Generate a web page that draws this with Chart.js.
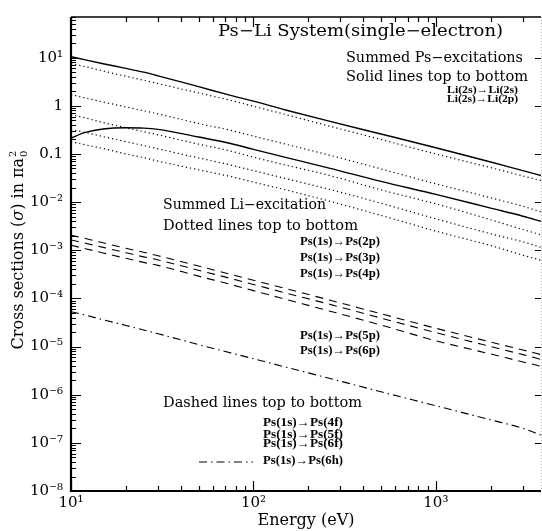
<!DOCTYPE html>
<html>
<head>
<meta charset="utf-8">
<script src="https://cdn.jsdelivr.net/npm/chart.js@4.4.1/dist/chart.umd.min.js"></script>
<style>
  html, body { margin: 0; padding: 0; background: #fff; overflow: hidden; }
  canvas { display: block; }
</style>
</head>
<body>
<canvas id="psLiChart" width="542" height="531"></canvas>
<script>
// energy grid (eV)
const energy = [10, 12, 15, 20, 25, 30, 50, 75, 100, 150, 260, 500, 1000, 2000, 3000, 3770];

// summed Ps-excitations, solid lines
const li2sTo2s = [10.5, 9.0, 7.5, 6.0, 5.0, 4.2, 2.5, 1.65, 1.25, 0.82, 0.48, 0.26, 0.135, 0.068, 0.045, 0.0357];
const li2sTo2p = [0.215, 0.28, 0.33, 0.35, 0.345, 0.325, 0.225, 0.165, 0.125, 0.085, 0.051, 0.027, 0.0145, 0.0075, 0.0051, 0.004];

// summed Li-excitation, dotted lines
const ps2p = [7.5, 6.5, 5.3, 4.1, 3.4, 2.9, 1.85, 1.3, 0.98, 0.66, 0.38, 0.2, 0.1, 0.052, 0.035, 0.028];
const ps3p = [1.72, 1.45, 1.2, 0.95, 0.79, 0.68, 0.43, 0.31, 0.235, 0.16, 0.095, 0.049, 0.024, 0.0123, 0.0082, 0.0063];
const ps4p = [0.66, 0.56, 0.45, 0.35, 0.29, 0.25, 0.16, 0.115, 0.086, 0.059, 0.036, 0.018, 0.0092, 0.0043, 0.0027, 0.0021];
const ps5p = [0.32, 0.28, 0.23, 0.18, 0.15, 0.128, 0.083, 0.059, 0.045, 0.031, 0.0185, 0.0095, 0.0045, 0.0022, 0.0015, 0.00115];
const ps6p = [0.18, 0.155, 0.13, 0.1, 0.084, 0.071, 0.047, 0.034, 0.026, 0.018, 0.0105, 0.0053, 0.0025, 0.00125, 0.00079, 0.00062];

// dashed lines
const ps4f = [2.05e-3, 1.75e-3, 1.43e-3, 1.1e-3, 9.1e-4, 7.7e-4, 4.7e-4, 3.15e-4, 2.38e-4, 1.6e-4, 9.3e-5, 4.8e-5, 2.4e-5, 1.24e-5, 8.5e-6, 6.8e-6];
const ps5f = [1.64e-3, 1.4e-3, 1.15e-3, 8.9e-4, 7.3e-4, 6.3e-4, 3.85e-4, 2.6e-4, 1.95e-4, 1.3e-4, 7.6e-5, 3.9e-5, 1.95e-5, 1.0e-5, 6.8e-6, 5.4e-6];
const ps6f = [1.27e-3, 1.08e-3, 8.8e-4, 6.8e-4, 5.6e-4, 4.85e-4, 2.9e-4, 1.95e-4, 1.45e-4, 9.6e-5, 5.5e-5, 2.8e-5, 1.32e-5, 7.0e-6, 4.8e-6, 3.9e-6];

// dash-dot line
const ps6h = [5.3e-5, 4.5e-5, 3.6e-5, 2.75e-5, 2.2e-5, 1.85e-5, 1.1e-5, 7.4e-6, 5.6e-6, 3.75e-6, 2.2e-6, 1.15e-6, 5.9e-7, 3.0e-7, 2.0e-7, 1.45e-7];

// axis ticks
const xTickValues = [10, 20, 30, 40, 50, 60, 70, 80, 90, 100, 200, 300, 400, 500, 600, 700, 800, 900, 1000, 2000, 3000];
const xTickLabels = { 10: '10¹', 100: '10²', 1000: '10³' };
const yTickLabels = { '-8': '10⁻⁸', '-7': '10⁻⁷', '-6': '10⁻⁶', '-5': '10⁻⁵', '-4': '10⁻⁴', '-3': '10⁻³', '-2': '10⁻²', '-1': '0.1', '0': '1', '1': '10¹' };

const SERIF = '"DejaVu Serif", serif';
const BOLD = 'bold 12px "Liberation Serif", serif';

function pts(values) {
    return energy.map((e, i) => ({ x: e, y: values[i] }));
}

const DOT = [1.2, 3];
const DASH = [8, 6];
const DASHDOT = [8, 4, 1.5, 4];

function line(label, values, dash, width) {
    return {
        label: label,
        data: pts(values),
        borderColor: '#000',
        borderWidth: width,
        borderDash: dash,
        pointRadius: 0,
        fill: false,
        cubicInterpolationMode: 'monotone'
    };
}

function isDecade(v) {
    const l = Math.log10(v);
    return Math.abs(l - Math.round(l)) < 1e-6;
}

const frameTicks = {
    id: 'frameTicks',
    afterDraw(chart) {
        const { ctx, chartArea: a, scales: { x, y } } = chart;
        ctx.save();
        ctx.strokeStyle = '#000';
        ctx.lineWidth = 1.2;
        ctx.beginPath();
        x.ticks.forEach(t => {
            const px = Math.round(x.getPixelForValue(t.value)) + 0.5;
            const len = isDecade(t.value) ? 10 : 5;
            ctx.moveTo(px, a.bottom); ctx.lineTo(px, a.bottom - len);
            ctx.moveTo(px, a.top); ctx.lineTo(px, a.top + len);
        });
        y.ticks.forEach(t => {
            const py = Math.round(y.getPixelForValue(t.value)) + 0.5;
            const len = isDecade(t.value) ? 10 : 5;
            ctx.moveTo(a.left, py); ctx.lineTo(a.left + len, py);
        });
        ctx.stroke();
        // right edge ticks
        ctx.beginPath();
        y.ticks.forEach(t => {
            if (!isDecade(t.value)) return;
            const py = Math.round(y.getPixelForValue(t.value)) + 0.5;
            ctx.moveTo(a.right, py); ctx.lineTo(a.right - 6, py);
        });
        ctx.stroke();
        // frame
        ctx.lineWidth = 2.2;
        ctx.beginPath();
        ctx.moveTo(a.left, a.top); ctx.lineTo(a.left, a.bottom); ctx.lineTo(a.right, a.bottom);
        ctx.stroke();
        ctx.lineWidth = 1.6;
        ctx.beginPath();
        ctx.moveTo(a.left, a.top); ctx.lineTo(a.right, a.top);
        ctx.stroke();
        ctx.strokeStyle = '#bbb';
        ctx.lineWidth = 1;
        ctx.setLineDash([1, 2]);
        ctx.beginPath();
        ctx.moveTo(a.right + 0.5, a.top); ctx.lineTo(a.right + 0.5, a.bottom);
        ctx.stroke();
        ctx.restore();
    }
};

// text annotations: left edge, middle line and width in the picture
const notes = [
    { t: 'Ps−Li System(single−electron)', x: 218, y: 32, w: 285, f: '16px ' + SERIF },
    { t: 'Summed Ps−excitations', x: 346, y: 58, w: 177, f: '14px ' + SERIF },
    { t: 'Solid lines top to bottom', x: 346, y: 77, w: 182, f: '14px ' + SERIF },
    { t: 'Li(2s)→Li(2s)', x: 447, y: 90, w: 71, f: 'bold 11px "Liberation Serif", serif' },
    { t: 'Li(2s)→Li(2p)', x: 447, y: 99, w: 71, f: 'bold 11px "Liberation Serif", serif' },
    { t: 'Summed Li−excitation', x: 163, y: 205, w: 163, f: '14px ' + SERIF },
    { t: 'Dotted lines top to bottom', x: 163, y: 226, w: 195, f: '14px ' + SERIF },
    { t: 'Ps(1s)→Ps(2p)', x: 300, y: 242, w: 80, f: BOLD },
    { t: 'Ps(1s)→Ps(3p)', x: 300, y: 258, w: 80, f: BOLD },
    { t: 'Ps(1s)→Ps(4p)', x: 300, y: 274, w: 80, f: BOLD },
    { t: 'Ps(1s)→Ps(5p)', x: 300, y: 336, w: 80, f: BOLD },
    { t: 'Ps(1s)→Ps(6p)', x: 300, y: 351, w: 80, f: BOLD },
    { t: 'Dashed lines top to bottom', x: 163, y: 403, w: 199, f: '14px ' + SERIF },
    { t: 'Ps(1s)→Ps(4f)', x: 263, y: 423, w: 80, f: BOLD },
    { t: 'Ps(1s)→Ps(5f)', x: 263, y: 435, w: 80, f: BOLD },
    { t: 'Ps(1s)→Ps(6f)', x: 263, y: 444, w: 80, f: BOLD },
    { t: 'Ps(1s)→Ps(6h)', x: 263, y: 461, w: 80, f: BOLD }
];

const annotations = {
    id: 'annotations',
    afterDraw(chart) {
        const ctx = chart.ctx;
        ctx.save();
        ctx.fillStyle = '#000';
        ctx.textBaseline = 'middle';
        ctx.textAlign = 'left';
        notes.forEach(n => {
            ctx.font = n.f;
            const mw = ctx.measureText(n.t).width;
            ctx.save();
            ctx.translate(n.x, n.y);
            ctx.scale(n.w / mw, 1);
            ctx.fillText(n.t, 0, 0);
            ctx.restore();
        });
        // key for the dash-dot line
        ctx.strokeStyle = '#000';
        ctx.lineWidth = 1;
        ctx.setLineDash(DASHDOT);
        ctx.beginPath();
        ctx.moveTo(199, 462); ctx.lineTo(253, 462);
        ctx.stroke();
        ctx.setLineDash([]);

        // x axis title
        ctx.font = '16px ' + SERIF;
        ctx.textAlign = 'center';
        ctx.fillText('Energy (eV)', 306, 521);

        // y axis title with italic sigma and stacked sub/superscript
        ctx.translate(19, 250);
        ctx.rotate(-Math.PI / 2);
        ctx.textAlign = 'left';
        const parts = [
            { s: 'Cross sections (', f: '16px ' + SERIF },
            { s: 'σ', f: 'italic 16px ' + SERIF },
            { s: ') in πa', f: '16px ' + SERIF }
        ];
        let total = 0;
        parts.forEach(p => { ctx.font = p.f; p.w = ctx.measureText(p.s).width; total += p.w; });
        ctx.font = '10px ' + SERIF;
        total += ctx.measureText('2').width + 1;
        let cx = -total / 2;
        parts.forEach(p => { ctx.font = p.f; ctx.fillText(p.s, cx, 0); cx += p.w; });
        ctx.font = '10px ' + SERIF;
        ctx.fillText('2', cx + 1, -6);
        ctx.fillText('0', cx + 1, 5);
        ctx.restore();
    }
};

new Chart(document.getElementById('psLiChart'), {
    type: 'line',
    data: {
        datasets: [
            line('Li(2s)→Li(2s)', li2sTo2s, [], 1.4),
            line('Li(2s)→Li(2p)', li2sTo2p, [], 1.4),
            line('Ps(1s)→Ps(2p)', ps2p, DOT, 1.2),
            line('Ps(1s)→Ps(3p)', ps3p, DOT, 1.2),
            line('Ps(1s)→Ps(4p)', ps4p, DOT, 1.2),
            line('Ps(1s)→Ps(5p)', ps5p, DOT, 1.2),
            line('Ps(1s)→Ps(6p)', ps6p, DOT, 1.2),
            line('Ps(1s)→Ps(4f)', ps4f, DASH, 1.1),
            line('Ps(1s)→Ps(5f)', ps5f, DASH, 1.1),
            line('Ps(1s)→Ps(6f)', ps6f, DASH, 1.1),
            line('Ps(1s)→Ps(6h)', ps6h, DASHDOT, 1.1)
        ]
    },
    options: {
        responsive: false,
        animation: false,
        devicePixelRatio: 1,
        layout: { padding: { top: 14, right: 1, left: 0, bottom: 0 } },
        plugins: {
            legend: { display: false },
            tooltip: { enabled: false }
        },
        scales: {
            x: {
                type: 'logarithmic',
                min: 10,
                max: 3770,
                grid: { display: false, drawTicks: false },
                border: { display: false },
                afterBuildTicks: scale => {
                    scale.ticks = xTickValues.map(v => ({ value: v }));
                },
                afterFit: scale => { scale.height = 40; },
                ticks: {
                    autoSkip: false,
                    maxRotation: 0,
                    padding: 3,
                    color: '#000',
                    font: { family: SERIF, size: 15 },
                    callback: value => xTickLabels[value] || ''
                }
            },
            y: {
                type: 'logarithmic',
                min: 1e-8,
                max: 70,
                grid: { display: false, drawTicks: false },
                border: { display: false },
                afterBuildTicks: scale => {
                    const t = [];
                    for (let p = -8; p <= 1; p++) {
                        for (let m = 1; m <= 9; m++) {
                            const v = m * Math.pow(10, p);
                            if (v <= 70) t.push({ value: v });
                        }
                    }
                    scale.ticks = t;
                },
                afterFit: scale => { scale.width = 71; },
                ticks: {
                    autoSkip: false,
                    padding: 8,
                    color: '#000',
                    font: { family: SERIF, size: 15 },
                    callback: value => {
                        if (!isDecade(value)) return '';
                        return yTickLabels[String(Math.round(Math.log10(value)))];
                    }
                }
            }
        }
    },
    plugins: [frameTicks, annotations]
});
</script>
</body>
</html>
